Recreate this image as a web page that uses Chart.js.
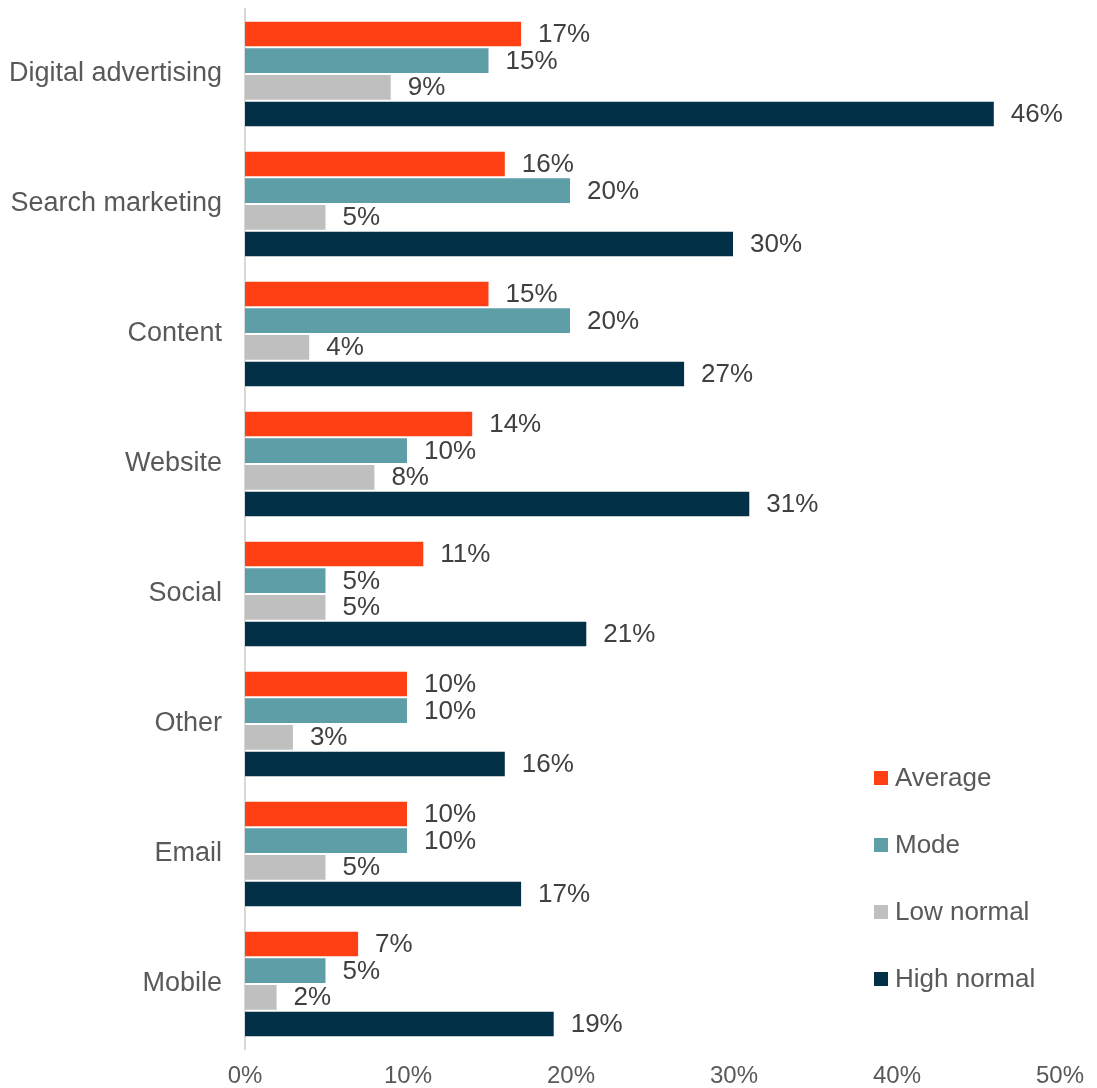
<!DOCTYPE html>
<html>
<head>
<meta charset="utf-8">
<script src="https://cdn.jsdelivr.net/npm/chart.js@4.4.1/dist/chart.umd.min.js"></script>
<style>
  html, body { margin: 0; padding: 0; background: #fff; }
  #wrap { width: 1097px; height: 1088px; }
</style>
</head>
<body>
<div id="wrap"><canvas id="myChart" width="1097" height="1088"></canvas></div>
<script>
// categories and series
var canaux = ['Digital advertising', 'Search marketing', 'Content', 'Website', 'Social', 'Other', 'Email', 'Mobile'];
var moyenne = [17, 16, 15, 14, 11, 10, 10, 7];
var mode = [15, 20, 20, 10, 5, 10, 10, 5];
var basNormal = [9, 5, 4, 8, 5, 3, 5, 2];
var hautNormal = [46, 30, 27, 31, 21, 16, 17, 19];
var series = ['Average', 'Mode', 'Low normal', 'High normal'];
var couleurs = ['#FF4015', '#5E9EA6', '#BFBFBF', '#023047'];
var graduations = [0, 10, 20, 30, 40, 50];

var police = '"Liberation Sans", Arial, sans-serif';

// value labels at the end of each bar
var etiquettes = {
    id: 'etiquettes',
    afterDatasetsDraw: function (chart) {
        var ctx = chart.ctx;
        ctx.save();
        ctx.font = '26px ' + police;
        ctx.fillStyle = '#404040';
        ctx.textBaseline = 'middle';
        ctx.textAlign = 'left';
        chart.data.datasets.forEach(function (ds, i) {
            chart.getDatasetMeta(i).data.forEach(function (bar, j) {
                ctx.fillText(ds.data[j] + '%', bar.x + 16, bar.y + 1);
            });
        });
        ctx.restore();
    }
};

// legend drawn inside the plot, lower right
var legende = {
    id: 'legende',
    afterDraw: function (chart) {
        var ctx = chart.ctx;
        ctx.save();
        ctx.font = '26px ' + police;
        ctx.textBaseline = 'middle';
        ctx.textAlign = 'left';
        series.forEach(function (nom, i) {
            var y = 778 + i * 67;
            ctx.fillStyle = couleurs[i];
            ctx.fillRect(874, y - 7, 14, 14);
            ctx.fillStyle = '#595959';
            ctx.fillText(nom, 895, y + 1);
        });
        ctx.restore();
    }
};

var ctx = document.getElementById('myChart').getContext('2d');
var chart = new Chart(ctx, {
    type: 'bar',
    data: {
        labels: canaux,
        datasets: [moyenne, mode, basNormal, hautNormal].map(function (d, i) {
            return {
                label: series[i],
                data: d,
                backgroundColor: couleurs[i],
                borderColor: 'rgba(255,255,255,0.6)',
                borderWidth: 1,
                barPercentage: 1,
                categoryPercentage: 0.82
            };
        })
    },
    options: {
        indexAxis: 'y',
        responsive: false,
        animation: false,
        layout: { padding: { top: 9, right: 37, left: 0, bottom: 0 } },
        plugins: {
            legend: { display: false },
            tooltip: { enabled: false }
        },
        scales: {
            x: {
                min: 0,
                max: 50,
                afterBuildTicks: function (scale) {
                    scale.ticks = graduations.map(function (v) { return { value: v }; });
                },
                afterFit: function (scale) {
                    scale.height = 39;
                    scale.paddingLeft = 0;
                    scale.paddingRight = 0;
                },
                grid: { display: false },
                border: { display: false },
                ticks: {
                    color: '#595959',
                    font: { family: police, size: 24 },
                    padding: 5,
                    maxRotation: 0,
                    callback: function (v) { return v + '%'; }
                }
            },
            y: {
                afterFit: function (scale) {
                    scale.width = 245;
                    scale.paddingTop = 0;
                    scale.paddingBottom = 0;
                },
                grid: { display: false },
                border: { display: true, color: '#D9D9D9', width: 2 },
                ticks: {
                    color: '#595959',
                    font: { family: police, size: 27 },
                    padding: 15
                }
            }
        }
    },
    plugins: [etiquettes, legende]
});
</script>
</body>
</html>
